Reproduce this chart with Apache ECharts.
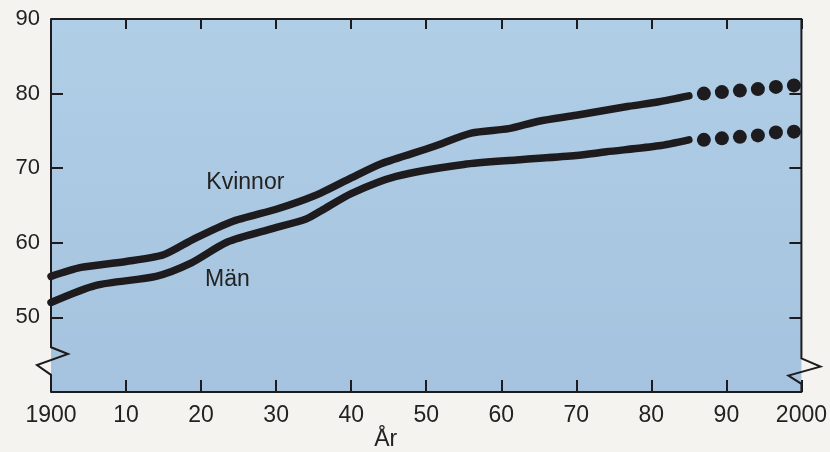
<!DOCTYPE html>
<html>
<head>
<meta charset="utf-8">
<script src="https://cdn.jsdelivr.net/npm/echarts@6/dist/echarts.min.js"></script>
<style>
  html, body { margin: 0; padding: 0; background: #f4f3ef; }
  #app { width: 830px; height: 452px; }
</style>
</head>
<body>
<div id="app"></div>
<script>
// life expectancy (years) by calendar year
const kvinnorYears = [1900, 1904, 1910, 1915, 1919, 1924, 1930, 1933, 1936, 1940, 1944, 1951, 1956, 1961, 1965, 1970, 1977, 1981, 1985];
const kvinnorValues = [55.5, 56.7, 57.5, 58.4, 60.5, 62.8, 64.5, 65.5, 66.7, 68.7, 70.6, 72.9, 74.7, 75.3, 76.3, 77.1, 78.3, 78.9, 79.7];
const manYears = [1900, 1906, 1914, 1918.5, 1923.5, 1929.5, 1934, 1936, 1940, 1946, 1955, 1962, 1970, 1974, 1981, 1985];
const manValues = [52.0, 54.3, 55.5, 57.2, 60.1, 61.9, 63.2, 64.3, 66.6, 68.9, 70.5, 71.1, 71.7, 72.2, 73.0, 73.8];

// projection (dots)
const prognosYears = [1987, 1989.4, 1991.8, 1994.2, 1996.6, 1999];
const kvinnorPrognos = [80.0, 80.2, 80.4, 80.6, 80.9, 81.1];
const manPrognos = [73.8, 74.0, 74.2, 74.4, 74.8, 74.9];

const yTicks = [50, 60, 70, 80, 90];

const ink = '#1e1b1e';
const pair = (xs, ys) => xs.map((x, i) => [x, ys[i]]);

const xLabel = v => (v === 1900 || v === 2000) ? String(v) : String(v % 100);

const buildOption = () => ({
  animation: false,
  backgroundColor: '#f4f3ef',
  grid: {
    left: 51, right: 27, top: 19, bottom: 60,
    show: true, borderWidth: 0,
    backgroundColor: {
      type: 'linear', x: 0, y: 0, x2: 0, y2: 1,
      colorStops: [{ offset: 0, color: '#b0cee6' }, { offset: 1, color: '#a5c3de' }]
    }
  },
  xAxis: [
    {
      type: 'value', min: 1900, max: 2000, interval: 10, position: 'bottom',
      axisLine: { show: true, lineStyle: { color: ink, width: 2 } },
      axisTick: { show: true, inside: true, length: 12, lineStyle: { color: ink, width: 2 } },
      axisLabel: { formatter: xLabel, color: '#222', fontSize: 23, margin: 12, fontFamily: 'Liberation Sans' },
      splitLine: { show: false }
    },
    {
      type: 'value', min: 1900, max: 2000, interval: 10, position: 'top',
      axisLine: { show: true, lineStyle: { color: ink, width: 2 } },
      axisTick: { show: true, inside: true, length: 10, lineStyle: { color: ink, width: 2 } },
      axisLabel: { show: false },
      splitLine: { show: false }
    }
  ],
  yAxis: [
    {
      type: 'value', min: 40, max: 90, interval: 10, position: 'left',
      axisLine: { show: false },
      axisTick: { show: true, inside: true, length: 12, lineStyle: { color: ink, width: 2 } },
      axisLabel: {
        color: '#222', fontSize: 22, margin: 11, fontFamily: 'Liberation Sans',
        formatter: v => yTicks.includes(v) ? String(v) : ''
      },
      splitLine: { show: false }
    },
    {
      type: 'value', min: 40, max: 90, interval: 10, position: 'right',
      axisLine: { show: false },
      axisTick: { show: true, inside: true, length: 12, lineStyle: { color: ink, width: 2 } },
      axisLabel: { show: false },
      splitLine: { show: false }
    }
  ],
  series: [
    {
      name: 'Kvinnor', type: 'line', data: pair(kvinnorYears, kvinnorValues),
      smooth: 0.25, symbol: 'none',
      lineStyle: { color: ink, width: 7.5, cap: 'round', join: 'round' }
    },
    {
      name: 'Män', type: 'line', data: pair(manYears, manValues),
      smooth: 0.25, symbol: 'none',
      lineStyle: { color: ink, width: 7.5, cap: 'round', join: 'round' }
    },
    {
      name: 'Kvinnor prognos', type: 'scatter', data: pair(prognosYears, kvinnorPrognos),
      symbolSize: 14, itemStyle: { color: ink, opacity: 1 }
    },
    {
      name: 'Män prognos', type: 'scatter', data: pair(prognosYears, manPrognos),
      symbolSize: 14, itemStyle: { color: ink, opacity: 1 }
    }
  ]
});

const app = document.getElementById('app');
const chart = echarts.init(app, null, { renderer: 'canvas' });
chart.setOption(buildOption());

// axis frame sides with break marks, and text annotations
const px = (x, y) => chart.convertToPixel({ gridIndex: 0 }, [x, y]);
const side = (x, dx, levels) => {
  const pts = [px(x, 90)];
  levels.forEach((lv, i) => {
    const p = px(x, lv);
    pts.push([p[0] + dx[i], p[1]]);
  });
  pts.push(px(x, 40));
  return pts;
};
const leftPts = side(1900, [0, 17, -14, 0], [46.0, 45.1, 43.6, 42.3]);
const rightPts = side(2000, [0, 19, -13, 0], [44.5, 43.4, 42.2, 41.1]);
const kv = px(1925.9, 68.0);
const mn = px(1923.5, 55.1);
const arX = px(1944.6, 40)[0];

chart.setOption({
  graphic: [
    { type: 'polyline', shape: { points: leftPts }, style: { stroke: ink, lineWidth: 2, fill: null }, z: 10 },
    { type: 'polyline', shape: { points: rightPts }, style: { stroke: ink, lineWidth: 2, fill: null }, z: 10 },
    { type: 'text', x: kv[0], y: kv[1], style: { text: 'Kvinnor', fill: '#222', fontSize: 23, fontFamily: 'Liberation Sans', align: 'center', verticalAlign: 'middle' }, z: 10 },
    { type: 'text', x: mn[0], y: mn[1], style: { text: 'Män', fill: '#222', fontSize: 23, fontFamily: 'Liberation Sans', align: 'center', verticalAlign: 'middle' }, z: 10 },
    { type: 'text', x: arX, y: 440, style: { text: 'År', fill: '#222', fontSize: 23, fontFamily: 'Liberation Sans', align: 'center', verticalAlign: 'middle' }, z: 10 }
  ]
});
</script>
</body>
</html>
